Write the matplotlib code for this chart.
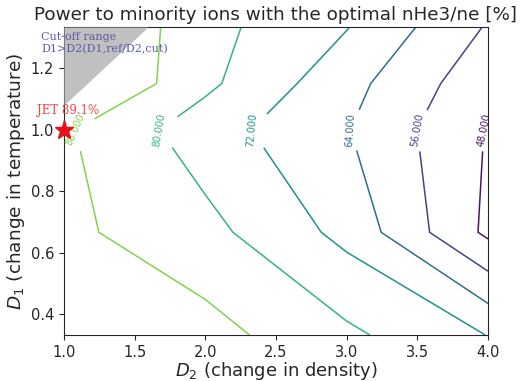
import numpy as np
import matplotlib
matplotlib.use("Agg")
import matplotlib.pyplot as plt
from matplotlib.colors import Normalize

# grid of the scan
D2 = [1.0, 2.0, 3.0, 4.0]
D1 = [1/3, 2/3, 1.0, 1.15, 4/3]
# power to minority ions [%], rows follow D1, columns follow D2
P_row_033 = [94.0, 90.9, 81.6, 71.8]
P_row_067 = [89.8, 82.5, 69.7, 46.35]
P_row_100 = [89.1, 75.66, 64.45, 47.5]
P_row_115 = [99.9, 81.75, 66.75, 50.6]
P_row_133 = [99.7, 82.6, 72.35, 55.3]
levels = [48, 56, 64, 72, 80, 88]

# cut-off region boundary
cut_x = [1.0, 1.594]
cut_y = [1.08, 4/3]
cut_top = 4/3

jet_x, jet_y, jet_val = 1.0, 1.0, 89.1

Z = np.array([P_row_033, P_row_067, P_row_100, P_row_115, P_row_133])
X, Y = np.meshgrid(D2, D1)

fig = plt.figure(figsize=(5.2, 3.81), dpi=100)
ax = fig.add_axes([0.123, 0.121, 0.8155, 0.808])

norm = Normalize(45, 98)
line_colors = [plt.cm.viridis(norm(v)) for v in levels]
cs = ax.contour(X, Y, Z, levels=levels, colors=line_colors, linewidths=1.1)

# place the labels where the lines cross D1 = 1
label_pos = []
for i, lv in enumerate(levels):
    row = np.array(P_row_100)
    for j in range(len(D2) - 1):
        a, b = row[j], row[j + 1]
        if (a - lv) * (b - lv) <= 0 and a != b:
            label_pos.append((D2[j] + (a - lv) / (a - b) * (D2[j + 1] - D2[j]), 1.0))
            break
ax.clabel(cs, fmt='%.3f', fontsize=7, inline=True, manual=label_pos)

ax.fill_between(cut_x, cut_y, cut_top, color='#c0c0c0', lw=0, zorder=3)

ax.plot([jet_x], [jet_y], marker='*', color='#e8101a', ms=14, clip_on=False,
        zorder=5, ls='none')
ax.text(0.81, 1.062, f'JET {jet_val}%', color='#f04848', fontsize=8.5,
        family='DejaVu Serif', va='center', zorder=6)
ax.text(0.84, 1.282, 'Cut-off range\nD1>D2(D1,ref/D2,cut)', color='#5a5aa8',
        fontsize=8, family='DejaVu Serif', va='center', linespacing=1.2,
        zorder=6)

ax.set_xlim(1.0, 4.0)
ax.set_ylim(1/3, 4/3)
ax.set_xticks([1.0, 1.5, 2.0, 2.5, 3.0, 3.5, 4.0])
ax.set_yticks([0.4, 0.6, 0.8, 1.0, 1.2])
ax.tick_params(labelsize=10.5, colors='#262626')
for s in ax.spines.values():
    s.set_color('#262626')
ax.set_xlabel('$D_2$ (change in density)', fontsize=13, color='#262626', labelpad=0)
ax.set_ylabel('$D_1$ (change in temperature)', fontsize=13.3, color='#262626', labelpad=3)
ax.set_title('Power to minority ions with the optimal nHe3/ne [%]', fontsize=13.2,
             color='#262626', pad=5)

fig.savefig('out.png', dpi=100)
